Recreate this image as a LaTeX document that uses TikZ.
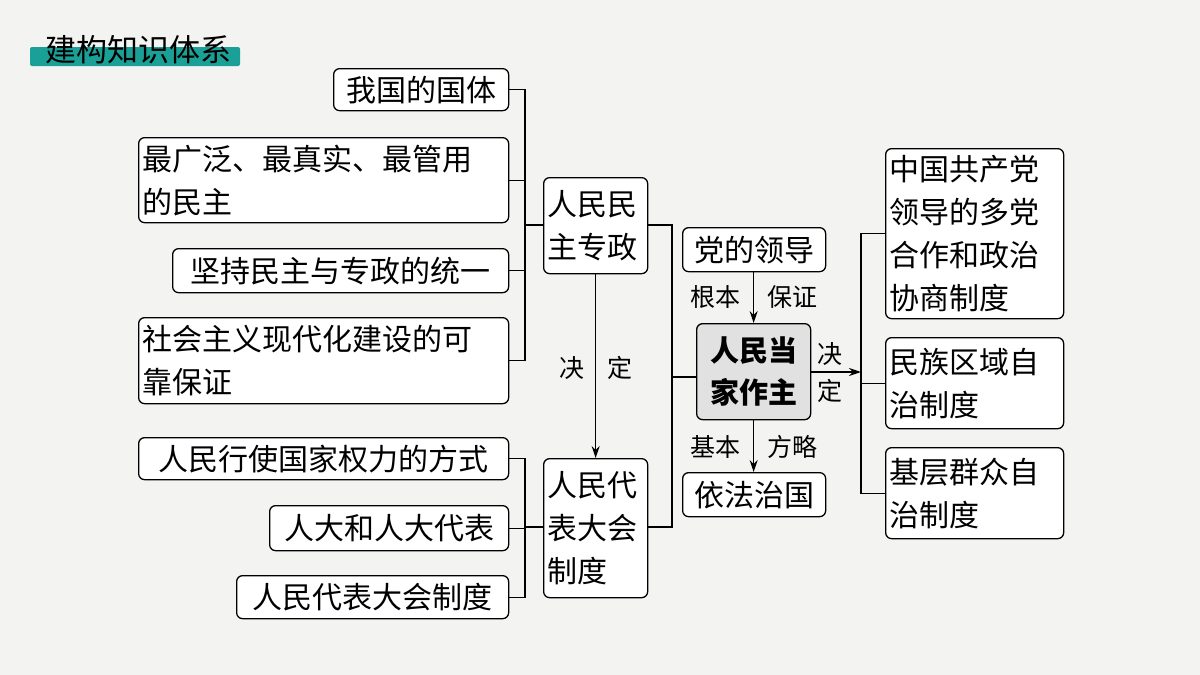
\documentclass[tikz,border=0pt]{standalone}
\usepackage{fontspec}
\setmainfont{Noto Sans CJK SC}
\usetikzlibrary{arrows.meta}
\begin{document}
\begin{tikzpicture}[x=1pt,y=-1pt,
  box/.style={draw,rounded corners=6pt,line width=1.3pt,anchor=north west,inner sep=4pt,align=left,font=\fontsize{30}{43}\selectfont,fill=white},
  ln/.style={line width=1.3pt},
  ar/.style={line width=1.3pt,-{Stealth[length=12pt,width=8pt]}},
  lab/.style={font=\fontsize{25}{28}\selectfont}]
\fill[fill={rgb,255:red,243;green,244;blue,242}] (0,0) rectangle (1200,675);
\useasboundingbox (0,0) rectangle (1200,675);
\fill[fill={rgb,255:red,26;green,160;blue,150},rounded corners=2pt] (30,47) rectangle (240,66);
\node[font=\fontsize{31}{34}\selectfont,anchor=west] (title) at (42,50) {建构知识体系};
% left group 1
\node[box,minimum width=175,minimum height=42] (a1) at (333,68) {我国的国体};
\node[box,minimum width=370,minimum height=85,text width=362] (a2) at (138,137) {最广泛、最真实、最管用\\的民主};
\node[box,minimum width=336,minimum height=44] (a3) at (172,248) {坚持民主与专政的统一};
\node[box,minimum width=370,minimum height=86,text width=362] (a4) at (138,317) {社会主义现代化建设的可\\靠保证};
\node[box,minimum width=104,minimum height=96,text width=96] (m1) at (543,177) {人民民\\主专政};
% left group 2
\node[box,minimum width=370,minimum height=42] (b1) at (138,437) {人民行使国家权力的方式};
\node[box,minimum width=239,minimum height=45] (b2) at (269,505) {人大和人大代表};
\node[box,minimum width=272,minimum height=43] (b3) at (236,575) {人民代表大会制度};
\node[box,minimum width=104,minimum height=139,text width=96] (m2) at (543,458) {人民代\\表大会\\制度};
% center
\node[box,minimum width=143,minimum height=44] (p) at (682,227) {党的领导};
\node[box,minimum width=114,minimum height=96,text width=106,align=center,fill={rgb,255:red,225;green,225;blue,225},font=\fontsize{29}{42}\selectfont\bfseries] (c) at (696,323) {人民当\\家作主};
\node[box,minimum width=143,minimum height=44] (y) at (682,472) {依法治国};
% right
\node[box,minimum width=178,minimum height=170,text width=170] (r1) at (885,148) {中国共产党\\领导的多党\\合作和政治\\协商制度};
\node[box,minimum width=178,minimum height=91,text width=170] (r2) at (885,337) {民族区域自\\治制度};
\node[box,minimum width=178,minimum height=91,text width=170] (r3) at (885,447) {基层群众自\\治制度};
% brackets
\coordinate (j1) at (525,225);
\draw[ln] (a1.east) -| (j1);
\draw[ln] (a4.east) -| (j1);
\draw[ln] (a2.east) -- (a2.east -| j1);
\draw[ln] (a3.east) -- (a3.east -| j1);
\draw[ln] (j1) -- (m1.west |- j1);
\coordinate (j2) at (525,527);
\draw[ln] (b1.east) -| (j2);
\draw[ln] (b3.east) -| (j2);
\draw[ln] (b2.east) -- (b2.east -| j2);
\draw[ln] (j2) -- (m2.west |- j2);
\coordinate (j3) at (672,377);
\draw[ln] (m1.east |- j1) -| (j3);
\draw[ln] (m2.east |- j2) -| (j3);
\draw[ln] (j3) -- (c.west |- j3);
\draw[ar] (m1.south) -- (m2.north);
\node[lab] (d1) at (572,368) {决};
\node[lab] (d2) at (620,368) {定};
\draw[ar] (p.south -| c.south) -- (c.north);
\node[lab] (g1) at (715,297) {根本};
\node[lab] (g2) at (792,297) {保证};
\draw[ar] (c.south) -- (y.north -| c.south);
\node[lab] (k1) at (715,447) {基本};
\node[lab] (k2) at (792,447) {方略};
\coordinate (j4) at (861,372);
\draw[ar] (c.east |- j4) -- (j4);
\node[lab] (e1) at (830,354) {决};
\node[lab] (e2) at (830,391) {定};
\draw[ln] (r1.west) -| (j4);
\draw[ln] (r3.west) -| (j4);
\draw[ln] (r2.west) -- (r2.west -| j4);
\end{tikzpicture}
\end{document}
